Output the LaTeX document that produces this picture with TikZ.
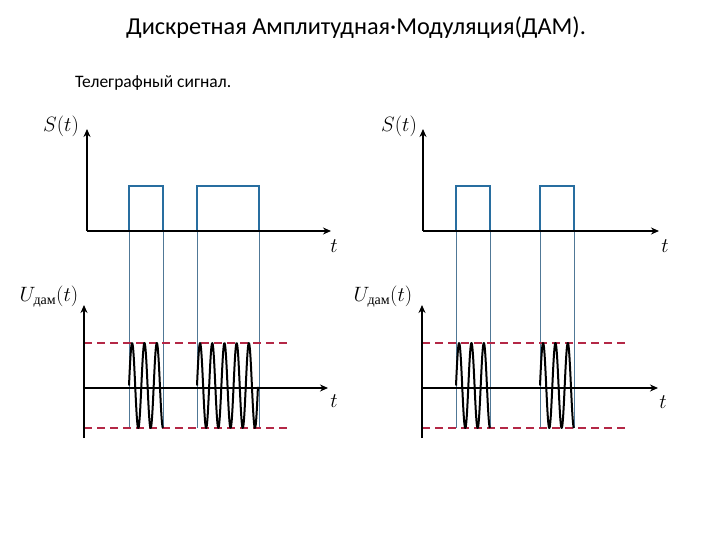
\documentclass[tikz,border=0pt]{standalone}
\usepackage[no-math]{fontspec}
\setmainfont{Carlito}
\newfontfamily\cyrserif{Liberation Serif}
\usetikzlibrary{arrows.meta}
\definecolor{pulse}{RGB}{40,110,160}
\definecolor{guide}{RGB}{80,120,150}
\definecolor{level}{RGB}{180,40,70}
\newcommand\burst[3]{\draw[wave] plot[domain=0:1,samples=140] ({#1+\x*(#2-#1)},{385.5-42.5*sin(\x*#3*360)});}
\begin{document}
\begin{tikzpicture}[x=1pt,y=-1pt,
  axis/.style={line width=1.8pt,-{Stealth[length=8pt,width=7pt]}},
  pulseline/.style={pulse,line width=2pt},
  guideline/.style={guide,line width=0.7pt},
  wave/.style={line width=2pt,line join=round},
  levelline/.style={level,line width=2.6pt,dash pattern=on 8pt off 5pt},
  mathlab/.style={inner sep=0pt,font=\fontsize{20.74}{24}\selectfont}]
\useasboundingbox (0,0) rectangle (720,540);
\fill[white] (0,0) rectangle (720,540);

% texts
\node (title) at (356,28) {\fontsize{24.3}{28}\selectfont Дискретная Амплитудная·Модуляция(ДАМ).};
\node[anchor=west,inner sep=0pt] (sub) at (75,83) {\fontsize{17.5}{20}\selectfont Телеграфный сигнал.};

% guide lines (left)
\foreach \gx/\nm in {129/a,163/b,197/c,259/d}{
  \coordinate (gt\nm) at (\gx,186);
  \coordinate (gb\nm) at (\gx,428);
  \draw[guideline] (gt\nm) -- (gb\nm);
}
% guide lines (right)
\foreach \gx/\nm in {456/e,490/f,540/g,574/h}{
  \coordinate (gt\nm) at (\gx,186);
  \coordinate (gb\nm) at (\gx,428);
  \draw[guideline] (gt\nm) -- (gb\nm);
}

% level lines
\coordinate (l1a) at (84,343); \coordinate (l1b) at (288,343);
\coordinate (l2a) at (84,428); \coordinate (l2b) at (288,428);
\coordinate (l3a) at (422,343); \coordinate (l3b) at (625,343);
\coordinate (l4a) at (422,428); \coordinate (l4b) at (625,428);
\draw[levelline] (l1a) -- (l1b);
\draw[levelline] (l2a) -- (l2b);
\draw[levelline] (l3a) -- (l3b);
\draw[levelline] (l4a) -- (l4b);

% pulses
\draw[pulseline] (129,231) -- (129,186) -- (163,186) -- (163,231);
\draw[pulseline] (197,231) -- (197,186) -- (259,186) -- (259,231);
\draw[pulseline] (456,231) -- (456,186) -- (490,186) -- (490,231);
\draw[pulseline] (540,231) -- (540,186) -- (574,186) -- (574,231);

% bursts
\burst{129}{163}{2.75}
\burst{197}{258}{5}
\burst{456}{490}{2.75}
\burst{540}{574}{2.75}

% axes upper left
\coordinate (o1) at (87,231); \coordinate (y1) at (87,129); \coordinate (x1) at (331,231);
\draw[axis] (o1) -- (y1);
\draw[axis] (o1) -- (x1);
% axes lower left
\coordinate (o2) at (84,438); \coordinate (z2) at (84,388);
\coordinate (y2) at (84,305); \coordinate (x2) at (328,388);
\draw[axis] (o2) -- (y2);
\draw[axis] (z2) -- (x2);
% axes upper right
\coordinate (o3) at (423,231); \coordinate (y3) at (423,129); \coordinate (x3) at (659,231);
\draw[axis] (o3) -- (y3);
\draw[axis] (o3) -- (x3);
% axes lower right
\coordinate (o4) at (422,438); \coordinate (z4) at (422,388);
\coordinate (y4) at (422,305); \coordinate (x4) at (658,388);
\draw[axis] (o4) -- (y4);
\draw[axis] (z4) -- (x4);

% labels
\node[mathlab] (s1) at (61,126) {$S(t)$};
\node[mathlab] (s2) at (399,126) {$S(t)$};
\node[mathlab] (t1) at (334,246) {$t$};
\node[mathlab] (t2) at (334,401) {$t$};
\node[mathlab] (t3) at (665,246) {$t$};
\node[mathlab] (t4) at (663,402) {$t$};
\node[mathlab] (u1) at (49,297) {$U_{\mbox{\fontsize{14}{14}\selectfont\cyrserif дам}}(t)$};
\node[mathlab] (u2) at (383,297) {$U_{\mbox{\fontsize{14}{14}\selectfont\cyrserif дам}}(t)$};
\end{tikzpicture}
\end{document}
